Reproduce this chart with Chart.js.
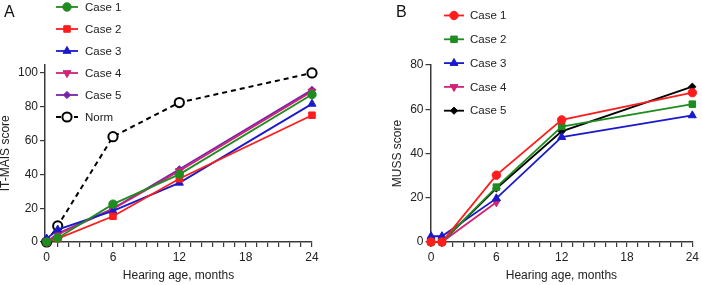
<!DOCTYPE html>
<html>
<head>
<meta charset="utf-8">
<script src="https://cdn.jsdelivr.net/npm/chart.js@4"></script>
<style>
  html, body { margin: 0; padding: 0; background: #fff; }
  body { width: 702px; height: 285px; position: relative; overflow: hidden; font-family: "Liberation Sans", Arial, Helvetica, sans-serif; }
  .panel { position: absolute; top: 0; height: 285px; }
  .letter { position: absolute; font-size: 16px; color: #111; font-family: "Liberation Sans", Arial, sans-serif; }
</style>
</head>
<body>
<div class="panel" style="left:0;width:352px;"><canvas id="cA" width="352" height="285"></canvas></div>
<div class="panel" style="left:352px;width:350px;"><canvas id="cB" width="350" height="285"></canvas></div>
<div class="letter" style="left:4px;top:3px;">A</div>
<div class="letter" style="left:396px;top:3px;">B</div>
<script>
// ---------- DATA ----------
const months = [0, 1, 6, 12, 24];
const xTickLabels = [0, 6, 12, 18, 24];

// Panel A: IT-MAIS score
const itmaisCase1 = [0, 2.4, 22.4, 40, 87.2];
const itmaisCase2 = [0, 2, 15.2, 37.4, 75];
const itmaisCase3 = [2, 7.3, 18.4, 35, 81.7];
const itmaisCase4 = [0, 4.5, 19.5, 42, 89];
const itmaisCase5 = [0, 5, 19.8, 43, 90];
const itmaisNorm  = [0, 9.5, 62.3, 82.5, 100];
const itmaisTicks = [0, 20, 40, 60, 80, 100];

// Panel B: MUSS score
const mussCase1 = [0, 0, 30.2, 55.2, 67.5];
const mussCase2 = [0, 0, 24.8, 52.2, 62.3];
const mussCase3 = [2.6, 2.6, 19.7, 47.4, 57.2];
const mussCase4 = [0, 0, 18, null, null];
const mussCase5 = [0, 0, 24.2, 50, 70.2];
const mussTicks = [0, 20, 40, 60, 80];

// ---------- STYLE ----------
const FONT = '"Liberation Sans", Arial, Helvetica, sans-serif';
const AX = '#3a3a3a';
const TXT = '#222';
const GREEN = '#1e8c1e', RED = '#ff1c1c', BLUE = '#1a1acb', MAGENTA = '#cf2378', PURPLE = '#7a23a8', BLACK = '#000';

function pts(arr) { return months.map((m, i) => ({ x: m, y: arr[i] })).filter(p => p.y !== null); }

function ds(label, arr, color, style, extra) {
  return Object.assign({
    label, data: pts(arr), borderColor: color, backgroundColor: color,
    pointBackgroundColor: color, pointBorderColor: color,
    borderWidth: 1.8, pointRadius: style.r, pointHoverRadius: style.r,
    pointStyle: style.s, pointRotation: style.rot || 0, pointBorderWidth: 1,
    clip: false, tension: 0, showLine: true
  }, extra || {});
}

const legendPlugin = {
  id: 'customLegend',
  afterDraw(chart, args, opts) {
    const ctx = chart.ctx;
    ctx.save();
    chart.data.datasets.forEach((d, i) => {
      const y = opts.y + i * opts.spacing;
      const x0 = opts.x, x1 = opts.x + opts.lineLen, xm = (x0 + x1) / 2;
      ctx.strokeStyle = d.borderColor;
      ctx.lineWidth = d.borderWidth;
      ctx.setLineDash(d.borderDash || []);
      ctx.beginPath(); ctx.moveTo(x0, y); ctx.lineTo(x1, y); ctx.stroke();
      ctx.setLineDash([]);
      ctx.fillStyle = d.pointBackgroundColor;
      ctx.strokeStyle = d.pointBorderColor;
      ctx.lineWidth = d.pointBorderWidth;
      Chart.helpers.drawPoint(ctx, { pointStyle: d.pointStyle, rotation: d.pointRotation, radius: d.pointRadius, borderWidth: d.pointBorderWidth }, xm, y);
      ctx.fillStyle = TXT;
      ctx.font = '11.5px ' + FONT;
      ctx.textBaseline = 'middle';
      ctx.textAlign = 'left';
      ctx.fillText(d.label, opts.textX, y + 0.5);
    });
    ctx.restore();
  }
};

function makeOptions(cfg) {
  return {
    responsive: false, animation: false, events: [],
    layout: { padding: cfg.padding },
    plugins: { legend: { display: false }, tooltip: { enabled: false }, customLegend: cfg.legend },
    scales: {
      x: {
        type: 'linear', min: cfg.xmin, max: 24,
        afterBuildTicks: s => { s.ticks = []; for (let v = 0; v <= 24; v++) s.ticks.push({ value: v }); },
        afterFit: s => { s.height = 43; },
        ticks: { autoSkip: false, maxRotation: 0, padding: 3, color: TXT, font: { family: FONT, size: 12 },
          callback: v => xTickLabels.includes(v) ? String(v) : '' },
        grid: { drawOnChartArea: false, drawTicks: true, tickLength: 5, color: AX, lineWidth: 1.2 },
        border: { display: true, color: AX, width: 1.5 },
        title: { display: true, text: 'Hearing age, months', color: TXT, font: { family: FONT, size: 12, lineHeight: 1.2 }, padding: { top: 0, bottom: 2 } }
      },
      y: {
        type: 'linear', min: 0, max: cfg.ymax,
        afterBuildTicks: s => { s.ticks = cfg.yTicks.map(v => ({ value: v })); },
        afterFit: s => { s.width = cfg.yWidth; },
        ticks: { padding: 2, color: TXT, font: { family: FONT, size: 12 } },
        grid: { drawOnChartArea: false, drawTicks: true, tickLength: 5, color: AX, lineWidth: 1.2 },
        border: { display: true, color: AX, width: 1.5 },
        title: { display: true, text: cfg.yTitle, color: TXT, font: { family: FONT, size: 12, lineHeight: 1.0 }, padding: { top: cfg.yTitlePad, bottom: 0 } }
      }
    }
  };
}

new Chart(document.getElementById('cA'), {
  type: 'line',
  data: {
    datasets: [
      ds('Case 1', itmaisCase1, GREEN, { s: 'circle', r: 4.2 }),
      ds('Case 2', itmaisCase2, RED, { s: 'rect', r: 4.6 }),
      ds('Case 3', itmaisCase3, BLUE, { s: 'triangle', r: 4.6 }),
      ds('Case 4', itmaisCase4, MAGENTA, { s: 'triangle', r: 4.6, rot: 180 }),
      ds('Case 5', itmaisCase5, PURPLE, { s: 'rectRot', r: 3.6 }),
      ds('Norm', itmaisNorm, BLACK, { s: 'circle', r: 4.6 }, { borderDash: [5, 4], borderWidth: 2, pointBackgroundColor: '#fff', pointBorderColor: BLACK, pointBorderWidth: 2, backgroundColor: '#fff' })
    ]
  },
  options: makeOptions({
    padding: { left: 0, right: 40, top: 64.5, bottom: 0 },
    xmin: -0.15, ymax: 105, yTicks: itmaisTicks, yWidth: 45, yTitle: 'IT-MAIS score', yTitlePad: 0,
    legend: { x: 56, lineLen: 22, textX: 85, y: 7, spacing: 22 }
  }),
  plugins: [legendPlugin]
});

new Chart(document.getElementById('cB'), {
  type: 'line',
  data: {
    datasets: [
      ds('Case 1', mussCase1, RED, { s: 'circle', r: 4.2 }),
      ds('Case 2', mussCase2, GREEN, { s: 'rect', r: 4.6 }),
      ds('Case 3', mussCase3, BLUE, { s: 'triangle', r: 4.6 }),
      ds('Case 4', mussCase4, MAGENTA, { s: 'triangle', r: 4.6, rot: 180 }),
      ds('Case 5', mussCase5, BLACK, { s: 'rectRot', r: 3.6 })
    ]
  },
  options: makeOptions({
    padding: { left: 36, right: 7, top: 65, bottom: 0 },
    xmin: -0.05, ymax: 80, yTicks: mussTicks, yWidth: 42.5, yTitle: 'MUSS score', yTitlePad: 4,
    legend: { x: 92, lineLen: 20, textX: 118, y: 15.5, spacing: 23.8 }
  }),
  plugins: [legendPlugin]
});
</script>
</body>
</html>
